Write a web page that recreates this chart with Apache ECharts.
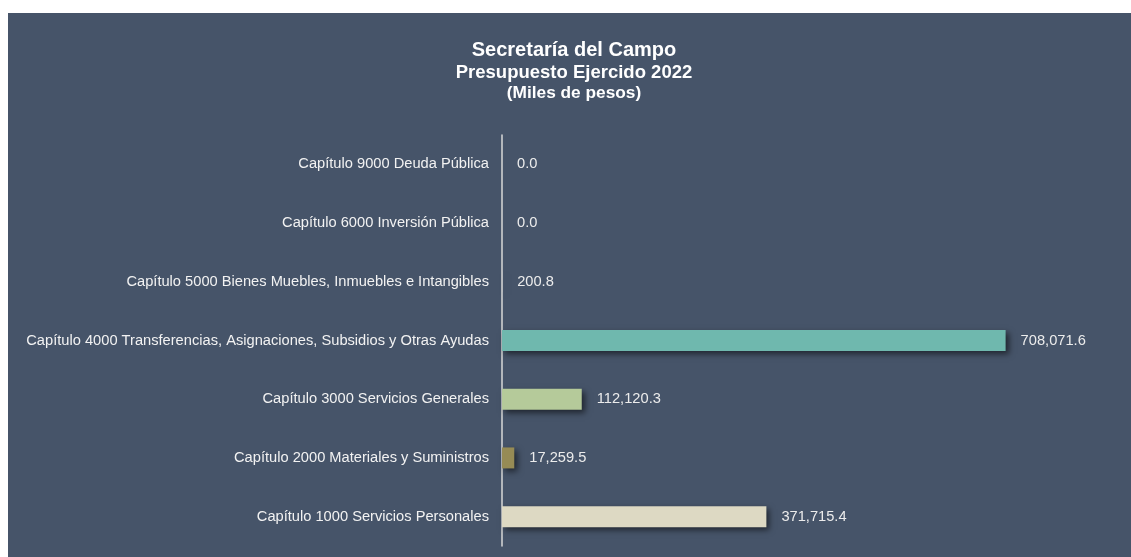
<!DOCTYPE html>
<html>
<head>
<meta charset="utf-8">
<script src="https://cdn.jsdelivr.net/npm/echarts@6/dist/echarts.min.js"></script>
<style>
  html, body { margin: 0; padding: 0; background: #ffffff; }
  #chart { position: absolute; left: 8px; top: 13px; width: 1123px; height: 544px; }
</style>
</head>
<body>
<div id="chart"></div>
<script>
// capítulos, de abajo hacia arriba
const categories = [
  'Capítulo 1000 Servicios Personales',
  'Capítulo 2000 Materiales y Suministros',
  'Capítulo 3000 Servicios Generales',
  'Capítulo 4000 Transferencias, Asignaciones, Subsidios y Otras Ayudas',
  'Capítulo 5000 Bienes Muebles, Inmuebles e Intangibles',
  'Capítulo 6000 Inversión Pública',
  'Capítulo 9000 Deuda Pública'
]
const values = [371715.4, 17259.5, 112120.3, 708071.6, 200.8, 0.0, 0.0]
const barColors = ['#ddd9c3', '#968b55', '#b5ca9a', '#6fb8ae', '#d9d9d9', '#d9d9d9', '#d9d9d9']

const chart = echarts.init(document.getElementById('chart'))

const fmt = v => v.toLocaleString('en-US', { minimumFractionDigits: 1, maximumFractionDigits: 1 })

chart.setOption({
  backgroundColor: '#465469',
  animation: false,
  textStyle: { fontFamily: 'Liberation Sans, Arial, sans-serif' },
  title: {
    text: '{a|Secretaría del Campo}\n{b|Presupuesto Ejercido 2022}\n{c|(Miles de pesos)}',
    left: 561,
    top: 21,
    textAlign: 'center',
    textStyle: {
      rich: {
        a: { fontSize: 20, fontWeight: 'bold', color: '#ffffff', lineHeight: 23, align: 'center', fontFamily: 'Liberation Sans' },
        b: { fontSize: 18.5, fontWeight: 'bold', color: '#ffffff', lineHeight: 21, align: 'center', fontFamily: 'Liberation Sans' },
        c: { fontSize: 17.3, fontWeight: 'bold', color: '#ffffff', lineHeight: 20, align: 'center', fontFamily: 'Liberation Sans' }
      }
    }
  },
  grid: { left: 494, right: 60, top: 122, bottom: 11, containLabel: false },
  xAxis: {
    type: 'value',
    min: 0,
    max: 800000,
    show: false,
    splitLine: { show: false }
  },
  yAxis: {
    type: 'category',
    data: categories,
    axisLine: { show: true, lineStyle: { color: '#d9d9d9', width: 1.5 } },
    axisTick: { show: false },
    axisLabel: { color: '#f2f2f2', fontSize: 14.67, margin: 13, fontFamily: 'Liberation Sans' }
  },
  series: [{
    type: 'bar',
    barWidth: 21,
    data: values.map((v, i) => ({
      value: v,
      itemStyle: { color: barColors[i] }
    })),
    itemStyle: {
      shadowColor: 'rgba(0,0,0,0.55)',
      shadowBlur: 6,
      shadowOffsetX: 3,
      shadowOffsetY: 3
    },
    label: {
      show: true,
      position: 'right',
      distance: 15,
      color: '#ececec',
      fontSize: 14.67,
      fontFamily: 'Liberation Sans',
      formatter: p => fmt(p.value)
    }
  }]
})
</script>
</body>
</html>
